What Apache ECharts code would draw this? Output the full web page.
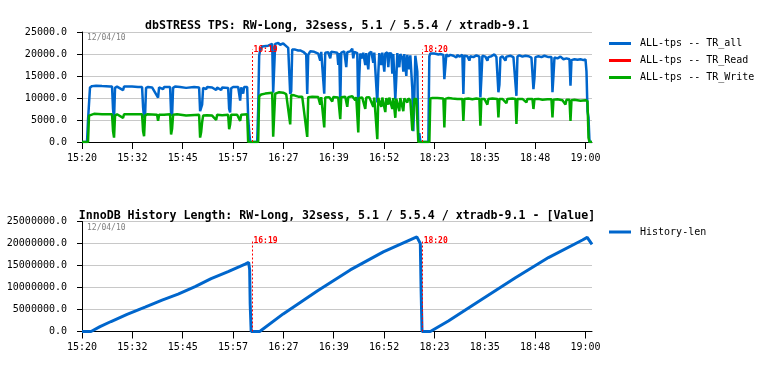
<!DOCTYPE html>
<html>
<head>
<meta charset="utf-8">
<title>dbSTRESS TPS / InnoDB History Length</title>
<script src="https://cdn.jsdelivr.net/npm/echarts@6/dist/echarts.min.js"></script>
<style>
  html, body { margin: 0; padding: 0; background: #fff; }
  #main { width: 766px; height: 378px; }
</style>
</head>
<body>
<div id="main"></div>
<script>
// x = sample index (about 15 s per sample), runs are glued together
var xLabels = ['15:20', '15:32', '15:45', '15:57', '16:27', '16:39', '16:52', '18:23', '18:35', '18:48', '19:00'];
var tickStep = 50.3;
var xMax = 509.5;

var markerPos = [170.3, 340.3];
var markerText = ['16:19', '18:20'];
var dateText = '12/04/10';

var tpsTitle = 'dbSTRESS TPS: RW-Long, 32sess, 5.1 / 5.5.4 / xtradb-9.1';
var histTitle = 'InnoDB History Length: RW-Long, 32sess, 5.1 / 5.5.4 / xtradb-9.1 - [Value]';

var tpsAll = [
  [0,0],[5,0],[6,4900],[7,4900],[8,12400],[10,12700],[14,12800],[20,12700],[28,12600],[30,12600],[31,7500],[32,5100],[33,12300],
  [35,12600],[41,11800],[42,12600],[50,12600],[56,12500],[60,12500],[61,8000],[62,5500],[63,6000],[64,12300],[66,12500],[70,12400],
  [76,10100],[77,12400],[81,12000],[82,12500],[88,12500],[89,6500],[90,6000],[91,12300],[93,12600],[98,12500],[104,12300],[105,12600],
  [112,12500],[117,12400],[118,7000],[119,6700],[120,8500],[121,12300],[124,12000],[125,12500],[130,12400],[134,11800],[135,12400],
  [139,11800],[140,12400],[146,12300],[147,7500],[148,6700],[149,12200],[151,12500],[156,12500],[158,9400],[159,12400],[161,11000],
  [162,12500],[165,12500],[166,5500],[167,2450],[168,0],[175,0],[176,7500],[177,19600],[178,20900],[180,21700],[186,21900],
  [190,22300],[191,11200],[192,10900],[193,22300],[196,22500],[198,22100],[201,22400],[204,21800],[206,21400],[208,10900],[209,11500],
  [210,21000],[213,21000],[216,20800],[218,20800],[221,20500],[224,19900],[225,10900],[226,19800],[228,20600],[232,20500],[236,20100],
  [238,18500],[239,20500],[242,11000],[243,20300],[246,20400],[248,19000],[249,20500],[252,20400],[255,20300],[256,17500],[257,20200],
  [258,8600],[259,20300],[262,20600],[264,17000],[265,20400],[268,20600],[270,21200],[271,19000],[272,20500],[275,20200],[276,7500],
  [277,15000],[278,20100],[280,19000],[281,20300],[283,17500],[284,20200],[286,16500],[287,20200],[289,20500],[291,18000],[292,20300],
  [295,9000],[296,15500],[297,20200],[299,17500],[300,20300],[302,16000],[303,20100],[305,20400],[306,17000],[307,20200],[309,20100],
  [310,15500],[311,20000],[313,9700],[314,14500],[315,20200],[317,17000],[318,20000],[320,19200],[321,16000],[322,20000],[324,15000],
  [325,19800],[327,16500],[328,19700],[330,12000],[331,2450],[332,10000],[333,19600],[335,16000],[336,1000],[337,2000],[338,0],
  [346,0],[347,19500],[348,20100],[352,20100],[356,19900],[358,20000],[361,19800],[362,14300],[363,14300],[364,19900],[366,19500],
  [368,19800],[371,19600],[374,19200],[375,19800],[377,19400],[380,19800],[381,10900],[382,19600],[385,19500],[387,18500],[388,19500],
  [391,19300],[394,19700],[397,19400],[398,10100],[399,14500],[400,19600],[403,19400],[405,18500],[406,19300],[409,19500],[412,19900],
  [414,19300],[416,11300],[417,13000],[418,19200],[420,19500],[423,18500],[424,19400],[428,19600],[431,19300],[434,10500],[435,19400],
  [437,19700],[440,19400],[443,19600],[446,19500],[449,19200],[451,12000],[452,14500],[453,19300],[456,19500],[459,19300],[462,19600],
  [466,19300],[469,19300],[470,11300],[471,15000],[472,19200],[475,19000],[478,19400],[481,18800],[484,19000],[487,18800],[488,12800],
  [489,18600],[492,18800],[495,18700],[498,18800],[501,18600],[503,18800],[504,16000],[505,7000],[506,5600],[507,0],[509.5,0]
];

// TR_Read has no samples in this run (only the legend entry shows)
var tpsRead = [];

var tpsWrite = [
  [0,0],[6,0],[7,6000],[8,6200],[12,6400],[20,6300],[30,6300],[31,2500],[32,1000],[33,6000],[35,6300],[41,5500],[42,6300],
  [50,6300],[60,6300],[61,2500],[62,1300],[63,6000],[65,6300],[75,6200],[76,4800],[77,6200],[82,6200],[88,6300],[89,1700],[90,3000],
  [91,6200],[95,6300],[104,6000],[105,6300],[117,6200],[118,1000],[119,2200],[120,4500],[121,6000],[125,6100],[130,6000],[134,5000],
  [135,6200],[140,6100],[146,6200],[147,2900],[148,4000],[149,6200],[155,6200],[158,4800],[159,6200],[165,6300],[166,0],[176,0],
  [177,10400],[179,10800],[183,11000],[190,11200],[191,1200],[192,1000],[193,11000],[197,11300],[201,11200],[204,10900],[208,4000],
  [209,10700],[212,10600],[216,10300],[220,10300],[225,1150],[226,10200],[230,10300],[236,10200],[238,8500],[239,10200],[242,3300],
  [243,10100],[247,10200],[250,9200],[251,10200],[256,10100],[258,5200],[259,10200],[263,10300],[265,8000],[266,10200],[270,10400],
  [273,9500],[274,10200],[276,2150],[277,10000],[280,10100],[283,7500],[284,10100],[287,10200],[291,8000],[292,10100],[295,650],
  [296,10000],[299,8000],[300,10100],[303,6800],[304,10000],[306,8500],[307,10100],[310,7500],[311,10000],[313,5500],[314,9800],
  [317,7000],[318,10000],[321,7000],[322,9900],[325,9000],[326,9900],[328,9500],[330,2600],[331,2150],[332,9800],[334,9800],
  [335,5000],[336,0],[347,0],[348,9900],[350,10000],[355,10000],[361,9900],[362,3300],[363,9800],[366,10000],[370,9900],[375,9800],
  [380,9800],[381,4800],[382,9800],[386,9900],[390,9700],[394,9900],[397,9800],[398,3700],[399,9800],[402,9800],[405,8500],[406,9800],
  [410,9900],[415,9800],[416,5600],[417,9800],[420,9800],[424,8800],[425,9800],[430,9900],[433,9800],[434,4100],[435,9800],[440,9800],
  [444,9000],[445,9800],[450,9800],[451,7500],[452,9700],[456,9800],[460,9600],[465,9700],[469,9700],[470,5600],[471,9600],[475,9700],
  [480,9500],[483,8500],[484,9600],[487,9600],[488,4800],[489,9500],[492,9600],[495,9500],[498,9400],[503,9500],[505,9300],[506,1000],
  [507,0],[509.5,0]
];

var historyLen = [
  [0,0],[9,0],[18,1100000],[29,2270000],[45,3900000],[63,5550000],[80,7150000],[96,8500000],[113,10200000],[129,12000000],
  [146,13600000],[163,15300000],[166.5,15700000],[167.5,14000000],[168,6400000],[169,0],[177.5,0],[201,4000000],
  [235,9200000],[268,14000000],[301,18100000],[334.5,21500000],[336.3,21800000],[338,20000000],[338.7,10200000],[339.7,0],
  [348,0],[366,2400000],[400,7400000],[433,12200000],[466,16800000],[500,20800000],[504.7,21400000],[506.3,21300000],
  [509.5,19800000]
];

var tpsMarkTop = 21000;
var histMarkTop = 20600000;

var FONT = 'DejaVu Sans Mono';
var RED = '#ff0000';
var BLUE = '#0066cc';
var GREEN = '#00aa00';

var tickValues = xLabels.map(function (_, i) { return i * tickStep; });

function makeX(gridIndex) {
  return {
    type: 'value',
    gridIndex: gridIndex,
    min: 0,
    max: xMax,
    interval: tickStep,
    axisLine: { lineStyle: { color: '#000', width: 1 } },
    axisTick: { show: true, length: 7, customValues: tickValues, lineStyle: { color: '#000' } },
    axisLabel: {
      customValues: tickValues,
      margin: 11,
      color: '#000',
      fontFamily: FONT,
      fontSize: 10,
      formatter: function (v) { return xLabels[Math.round(v / tickStep)] || ''; }
    },
    splitLine: { show: false }
  };
}

function makeY(gridIndex, max) {
  return {
    type: 'value',
    gridIndex: gridIndex,
    min: 0,
    max: max,
    interval: max / 5,
    axisLine: { show: true, lineStyle: { color: '#000', width: 1 } },
    axisTick: { show: true, length: 5, lineStyle: { color: '#000' } },
    axisLabel: {
      margin: 15,
      color: '#000',
      fontFamily: FONT,
      fontSize: 10,
      formatter: function (v) { return v.toFixed(1); }
    },
    splitLine: { show: true, lineStyle: { color: '#c8c8c8', width: 1 } }
  };
}

// red dotted restart markers + their time label
function markers(top) {
  return {
    markLine: {
      silent: true,
      symbol: ['none', 'none'],
      label: { show: false },
      lineStyle: { color: RED, type: [2, 2], width: 1 },
      data: markerPos.map(function (p) { return [{ coord: [p, 0] }, { coord: [p, top] }]; })
    },
    markPoint: {
      silent: true,
      symbol: 'circle',
      symbolSize: 0,
      label: {
        show: true,
        position: 'right',
        distance: 1,
        color: RED,
        fontFamily: FONT,
        fontSize: 8,
        fontWeight: 'bold',
        formatter: function (p) { return p.name; }
      },
      data: markerPos.map(function (p, i) { return { name: markerText[i], coord: [p, top] }; })
    }
  };
}

function lineSeries(name, data, color, xi, width, extra) {
  var s = {
    name: name,
    type: 'line',
    xAxisIndex: xi,
    yAxisIndex: xi,
    data: data,
    showSymbol: false,
    symbol: 'none',
    animation: false,
    color: color,
    lineStyle: { color: color, width: width }
  };
  if (extra) {
    s.markLine = extra.markLine;
    s.markPoint = extra.markPoint;
  }
  return s;
}

var chart = echarts.init(document.getElementById('main'));

var legendText = { fontFamily: FONT, fontSize: 10, color: '#000', lineHeight: 12, padding: [0, 0, 0, 4] };

var option = {
  animation: false,
  backgroundColor: '#fff',
  title: [
    { text: tpsTitle, left: 332, top: 15, textAlign: 'center',
      textStyle: { fontFamily: FONT, fontSize: 11.6, fontWeight: 'bold', color: '#000' } },
    { text: histTitle, left: 332, top: 205, textAlign: 'center',
      textStyle: { fontFamily: FONT, fontSize: 11.6, fontWeight: 'bold', color: '#000' } }
  ],
  legend: [
    { data: ['ALL-tps -- TR_all', 'ALL-tps -- TR_Read', 'ALL-tps -- TR_Write'],
      orient: 'vertical', left: 604, top: 32.5, itemWidth: 22, itemHeight: 3, itemGap: 5, icon: 'rect',
      selectedMode: false, textStyle: legendText },
    { data: ['History-len'],
      orient: 'vertical', left: 604, top: 221, itemWidth: 22, itemHeight: 3, icon: 'rect',
      selectedMode: false, textStyle: legendText }
  ],
  grid: [
    { left: 82, right: 174, top: 32, height: 110 },
    { left: 82, right: 174, top: 221.5, height: 110 }
  ],
  xAxis: [makeX(0), makeX(1)],
  yAxis: [makeY(0, 25000), makeY(1, 25000000)],
  graphic: [
    { type: 'text', left: 87, top: 34, style: { text: dateText, fill: '#808080', font: '8px "DejaVu Sans Mono"' } },
    { type: 'text', left: 87, top: 224, style: { text: dateText, fill: '#808080', font: '8px "DejaVu Sans Mono"' } }
  ],
  series: [
    lineSeries('ALL-tps -- TR_all', tpsAll, BLUE, 0, 2.5),
    lineSeries('ALL-tps -- TR_Read', tpsRead, RED, 0, 2.5),
    lineSeries('ALL-tps -- TR_Write', tpsWrite, GREEN, 0, 2.5, markers(tpsMarkTop)),
    lineSeries('History-len', historyLen, BLUE, 1, 3, markers(histMarkTop))
  ]
};

chart.setOption(option);
</script>
</body>
</html>
